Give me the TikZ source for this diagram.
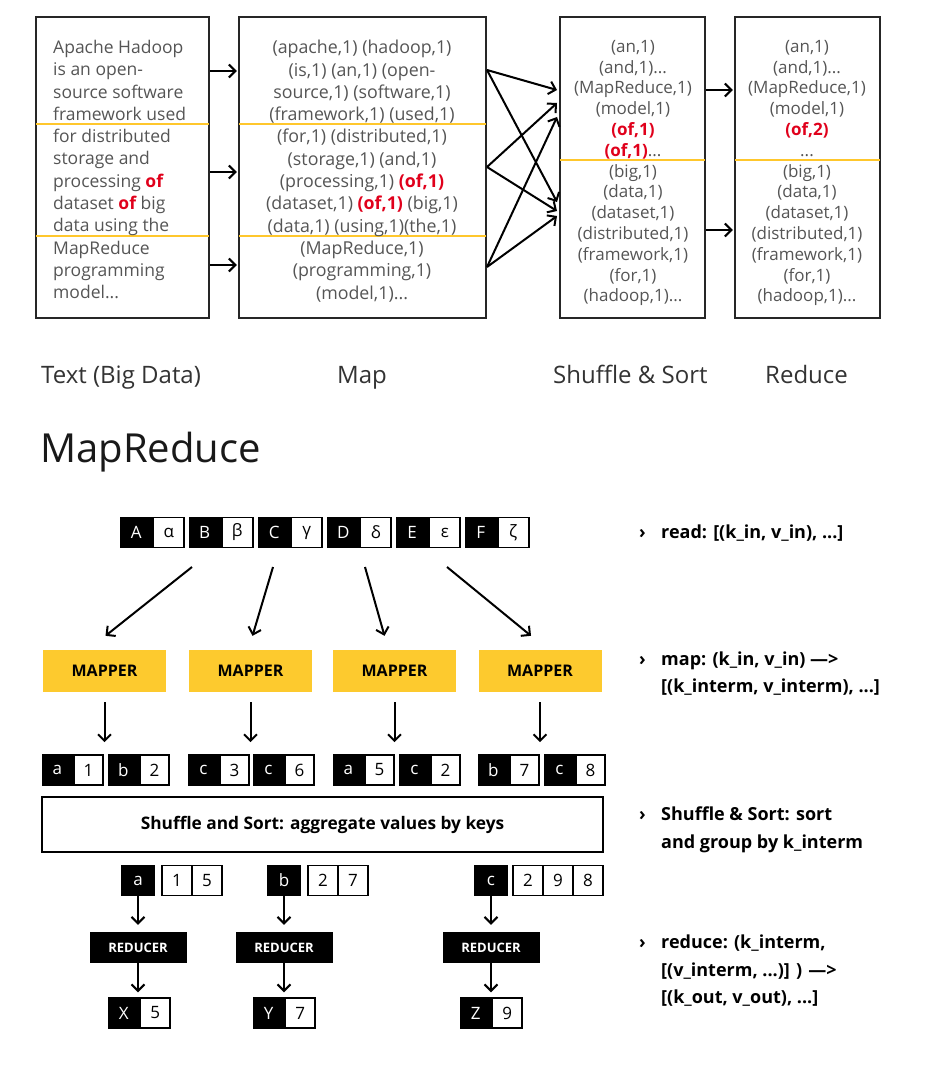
\documentclass[tikz,border=0pt]{standalone}
\usepackage{fontspec}
\setmainfont{Open Sans}
\usetikzlibrary{arrows.meta}
\definecolor{hy}{HTML}{FDCA2E}
\definecolor{yl}{HTML}{FFC72C}
\definecolor{hred}{HTML}{E0001B}
\definecolor{tgrey}{HTML}{555555}
\definecolor{lgrey}{HTML}{333333}
\newcommand\rof[1]{\textcolor{hred}{\bfseries #1}}
\newcommand{\kvpair}[6]{%
  \node[kcell, minimum width=#6pt, anchor=west] (#1k) at (#2,#3) {#4};
  \node[vcell, minimum width=#6pt, anchor=west] (#1v) at (#1k.east) {#5};}
\begin{document}
\begin{tikzpicture}[x=1pt,y=-1pt,
  bigbox/.style={draw=black!85, line width=2.5pt, minimum height=301pt, inner sep=0},
  ylin/.style={draw=yl, line width=2.2pt},
  arr/.style={-{Straight Barb[length=6.5pt,width=13pt,line width=2pt]}, line width=2pt},
  txt/.style={inner sep=0, text=tgrey},
  lab/.style={inner sep=0, anchor=base west, text=lgrey, font=\fontsize{24}{28}\selectfont},
  kcell/.style={fill=black, draw=black, line width=1.4pt, text=white, minimum height=30pt, inner sep=0, font=\fontsize{17}{19}\selectfont},
  vcell/.style={fill=white, draw=black, line width=1.8pt, text=black, minimum height=30pt, inner sep=0, font=\fontsize{17}{19}\selectfont},
  mapper/.style={fill=hy, minimum width=123pt, minimum height=42pt, inner sep=0, font=\fontsize{16}{18}\selectfont\bfseries},
  reducer/.style={fill=black, text=white, minimum width=97pt, minimum height=31pt, inner sep=0, font=\fontsize{13}{15}\selectfont\bfseries},
  rt/.style={inner sep=0, anchor=base west, font=\fontsize{18}{22}\selectfont\bfseries},
  chev/.style={inner sep=0, anchor=base west, font=\fontsize{18}{22}\selectfont\bfseries}
]
\useasboundingbox (0,0) rectangle (952,1078);

% ---------- top part ----------
\node[bigbox, minimum width=173pt] (b1) at (122.5,167.5) {};
\node[bigbox, minimum width=247pt] (b2) at (362.5,167.5) {};
\node[bigbox, minimum width=145pt] (b3) at (632.5,167.5) {};
\node[bigbox, minimum width=145pt] (b4) at (807.5,167.5) {};

\draw[ylin] ([xshift=1.3pt]b1.west |- 0,124) -- ([xshift=-1.3pt]b1.east |- 0,124);
\draw[ylin] ([xshift=1.3pt]b1.west |- 0,236) -- ([xshift=-1.3pt]b1.east |- 0,236);
\draw[ylin] ([xshift=1.3pt]b2.west |- 0,124) -- ([xshift=-1.3pt]b2.east |- 0,124);
\draw[ylin] ([xshift=1.3pt]b2.west |- 0,236) -- ([xshift=-1.3pt]b2.east |- 0,236);
\draw[ylin] ([xshift=1.3pt]b3.west |- 0,160) -- ([xshift=-1.3pt]b3.east |- 0,160);
\draw[ylin] ([xshift=1.3pt]b4.west |- 0,160) -- ([xshift=-1.3pt]b4.east |- 0,160);

\node[txt, anchor=north west, align=left, font=\fontsize{17.5}{22.3}\selectfont] (t1) at (53,40)
 {Apache Hadoop\\is an open-\\source software\\framework used\\for distributed\\storage and\\processing \rof{of}\\dataset \rof{of} big\\data using the\\MapReduce\\programming\\model...};
\node[txt, anchor=north, align=center, font=\fontsize{17.8}{22.3}\selectfont] (t2) at (362,40)
 {(apache,1) (hadoop,1)\\(is,1) (an,1) (open-\\source,1) (software,1)\\(framework,1) (used,1)\\(for,1) (distributed,1)\\(storage,1) (and,1)\\(processing,1) \rof{(of,1)}\\(dataset,1) \rof{(of,1)} (big,1)\\(data,1) (using,1)(the,1)\\(MapReduce,1)\\(programming,1)\\(model,1)...};
\node[txt, anchor=north, align=center, font=\fontsize{17}{20.8}\selectfont] (t3) at (633,40)
 {(an,1)\\(and,1)...\\(MapReduce,1)\\(model,1)\\\rof{(of,1)}\\\rof{(of,1)}...\\(big,1)\\(data,1)\\(dataset,1)\\(distributed,1)\\(framework,1)\\(for,1)\\(hadoop,1)...};
\node[txt, anchor=north, align=center, font=\fontsize{17}{20.8}\selectfont] (t4) at (807,40)
 {(an,1)\\(and,1)...\\(MapReduce,1)\\(model,1)\\\rof{(of,2)}\\...\\(big,1)\\(data,1)\\(dataset,1)\\(distributed,1)\\(framework,1)\\(for,1)\\(hadoop,1)...};

% arrows text -> map
\draw[arr] (b1.east |- 0,71) -- ([xshift=-1pt]b2.west |- 0,71);
\draw[arr] (b1.east |- 0,172) -- ([xshift=-1pt]b2.west |- 0,172);
\draw[arr] (b1.east |- 0,265) -- ([xshift=-1pt]b2.west |- 0,265);
% crossing arrows map -> shuffle
\coordinate (s1) at (487,70);
\coordinate (s2) at (487,167);
\coordinate (s3) at (487,267);
\coordinate (e1) at (557,90);
\coordinate (e2) at (557,103);
\coordinate (e3) at (557,117);
\coordinate (e4) at (557,202);
\coordinate (e5) at (557,211);
\coordinate (e6) at (557,216);
\draw[arr] (s1) -- (e1);
\draw[arr] (s1) -- (e4);
\draw[arr] (s2) -- (e2);
\draw[arr] (s2) -- (e5);
\draw[arr] (s3) -- (e3);
\draw[arr] (s3) -- (e6);
% shuffle -> reduce
\draw[arr] (b3.east |- 0,90) -- ([xshift=-1pt]b4.west |- 0,90);
\draw[arr] (b3.east |- 0,230) -- ([xshift=-1pt]b4.west |- 0,230);

% labels
\node[lab] (l1) at (41,383) {Text (Big Data)};
\node[lab] (l2) at (337,383) {Map};
\node[lab] (l3) at (553,383) {Shuffle \& Sort};
\node[lab] (l4) at (765,383) {Reduce};
\node[inner sep=0, anchor=base west, font=\fontsize{40}{46}\selectfont, text=black!90] (title) at (40,462) {MapReduce};

% ---------- bottom part ----------
\kvpair{pA}{120}{532.5}{A}{α}{31}
\kvpair{pB}{188.5}{532.5}{B}{β}{31}
\kvpair{pC}{258}{532.5}{C}{γ}{31}
\kvpair{pD}{327}{532.5}{D}{δ}{31}
\kvpair{pE}{396}{532.5}{E}{ε}{31}
\kvpair{pF}{464.5}{532.5}{F}{ζ}{31}

\node[mapper] (m1) at (104.5,671) {MAPPER};
\node[mapper] (m2) at (250.5,671) {MAPPER};
\node[mapper] (m3) at (394.5,671) {MAPPER};
\node[mapper] (m4) at (540,671) {MAPPER};

\coordinate (i1) at (192,567);
\coordinate (i2) at (273,567);
\coordinate (i3) at (365,567);
\coordinate (i4) at (447,567);
\draw[arr] (i1) -- ([yshift=14pt,xshift=1pt]m1.north);
\draw[arr] (i2) -- ([yshift=14pt,xshift=2pt]m2.north);
\draw[arr] (i3) -- ([yshift=14pt,xshift=-10pt]m3.north);
\draw[arr] (i4) -- ([yshift=14pt,xshift=-9pt]m4.north);

\foreach \m in {m1,m2,m3,m4}
  \draw[arr] ([yshift=-10pt]\m.south) -- ([yshift=-50pt]\m.south);

\kvpair{q1}{42}{770}{a}{1}{29.5}
\kvpair{q2}{108}{770}{b}{2}{29.5}
\kvpair{q3}{188}{770}{c}{3}{29.5}
\kvpair{q4}{253}{770}{c}{6}{29.5}
\kvpair{q5}{333}{770}{a}{5}{29.5}
\kvpair{q6}{399}{770}{c}{2}{29.5}
\kvpair{q7}{478}{770}{b}{7}{29.5}
\kvpair{q8}{544}{770}{c}{8}{29.5}

\node[draw=black, line width=2.2pt, minimum width=561pt, minimum height=55pt, inner sep=0, font=\fontsize{17.3}{20}\selectfont\bfseries] (sh) at (322.5,824.5) {Shuffle and Sort: aggregate values by keys};

% grouped
\node[kcell, minimum width=32pt] (ga) at (138,880.5) {a};
\node[vcell, minimum width=30pt] (ga1) at (177,880.5) {1};
\node[vcell, minimum width=30pt] (ga2) at (207,880.5) {5};
\node[kcell, minimum width=32pt] (gb) at (284,880.5) {b};
\node[vcell, minimum width=30pt] (gb1) at (323,880.5) {2};
\node[vcell, minimum width=30pt] (gb2) at (353,880.5) {7};
\node[kcell, minimum width=32pt] (gc) at (491,880.5) {c};
\node[vcell, minimum width=30pt] (gc1) at (528,880.5) {2};
\node[vcell, minimum width=30pt] (gc2) at (558,880.5) {9};
\node[vcell, minimum width=30pt] (gc3) at (588,880.5) {8};

\node[reducer] (r1) at (138,947.5) {REDUCER};
\node[reducer] (r2) at (284,947.5) {REDUCER};
\node[reducer] (r3) at (491,947.5) {REDUCER};

\draw[arr] (ga.south) -- ([yshift=7pt]r1.north);
\draw[arr] (gb.south) -- ([yshift=7pt]r2.north);
\draw[arr] (gc.south) -- ([yshift=7pt]r3.north);

\kvpair{o1}{108}{1013}{X}{5}{30}
\kvpair{o2}{253}{1013}{Y}{7}{30}
\kvpair{o3}{460}{1013}{Z}{9}{30}

\draw[arr] (r1.south) -- ([yshift=5pt]r1.south |- o1k.north);
\draw[arr] (r2.south) -- ([yshift=5pt]r2.south |- o2k.north);
\draw[arr] (r3.south) -- ([yshift=5pt]r3.south |- o3k.north);

% right-hand notes
\node[chev] (c1) at (639,538) {›};
\node[chev] (c2) at (639,665) {›};
\node[chev] (c3) at (639,820) {›};
\node[chev] (c4) at (639,948) {›};
\node[rt] (n1) at (661,538) {read: [(k\_in, v\_in), ...]};
\node[rt] (n2a) at (661,665) {map: (k\_in, v\_in) —>};
\node[rt] (n2b) at (661,692) {[(k\_interm, v\_interm), ...]};
\node[rt] (n3a) at (661,820) {Shuffle \& Sort: sort};
\node[rt] (n3b) at (661,848) {and group by k\_interm};
\node[rt] (n4a) at (661,948) {reduce: (k\_interm,};
\node[rt] (n4b) at (661,976) {[(v\_interm, ...)] ) —>};
\node[rt] (n4c) at (661,1003) {[(k\_out, v\_out), ...]};
\end{tikzpicture}
\end{document}
